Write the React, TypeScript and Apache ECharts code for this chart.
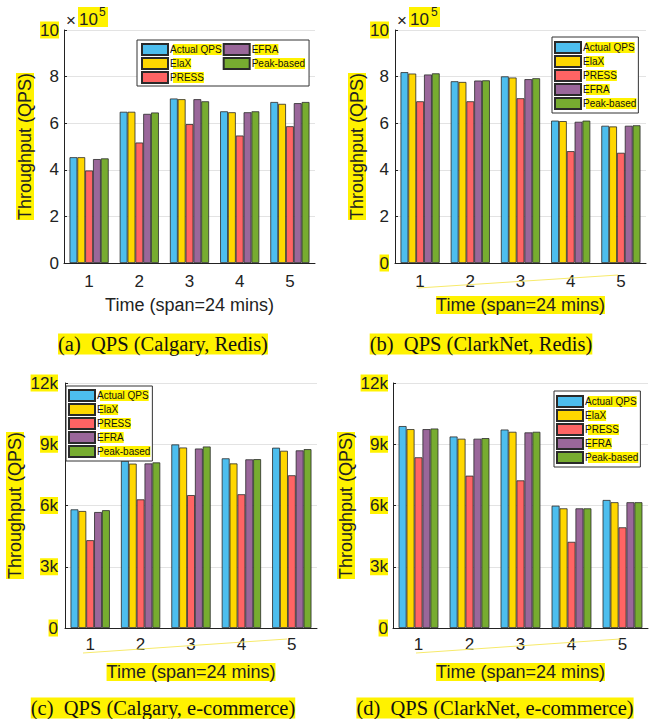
import React, { useEffect, useRef } from 'react';
import * as echarts from 'echarts';

const categories = ['1', '2', '3', '4', '5'];
const seriesNames = ['Actual QPS', 'ElaX', 'PRESS', 'EFRA', 'Peak-based'];
const colors = ['#4DBEEE', '#FFD700', '#FF6464', '#9A679A', '#77AC30'];

// (a) QPS (Calgary, Redis)
const aActual = [454000, 649000, 706000, 651000, 691000];
const aElaX = [454000, 649000, 703000, 647000, 683000];
const aPress = [397000, 517000, 596000, 547000, 587000];
const aEfra = [446000, 640000, 703000, 647000, 686000];
const aPeak = [449000, 646000, 694000, 651000, 691000];

// (b) QPS (ClarkNet, Redis)
const bActual = [819000, 780000, 801000, 611000, 589000];
const bElaX = [813000, 777000, 796000, 609000, 586000];
const bPress = [694000, 694000, 707000, 480000, 473000];
const bEfra = [809000, 783000, 789000, 606000, 589000];
const bPeak = [814000, 784000, 793000, 611000, 591000];

// (c) QPS (Calgary, e-commerce)
const cActual = [5810, 8190, 8990, 8310, 8830];
const cElaX = [5730, 8050, 8840, 8060, 8680];
const cPress = [4300, 6300, 6510, 6550, 7480];
const cEfra = [5680, 8060, 8790, 8260, 8700];
const cPeak = [5770, 8110, 8890, 8270, 8760];

// (d) QPS (ClarkNet, e-commerce)
const dActual = [9890, 9380, 9720, 5990, 6270];
const dElaX = [9740, 9270, 9610, 5860, 6160];
const dPress = [8360, 7460, 7230, 4220, 4930];
const dEfra = [9740, 9270, 9580, 5860, 6160];
const dPeak = [9770, 9300, 9610, 5860, 6160];

const redisTicks = [0, 2, 4, 6, 8, 10];
const ecomTicks = ['0', '3k', '6k', '9k', '12k'];

const xName = 'Time (span=24 mins)';
const yName = 'Throughput (QPS)';
const captions = [
  '(a)  QPS (Calgary, Redis)',
  '(b)  QPS (ClarkNet, Redis)',
  '(c)  QPS (Calgary, e-commerce)',
  '(d)  QPS (ClarkNet, e-commerce)',
];

const HL = '#FFF200';
const SANS = '"Liberation Sans", Arial, Helvetica, sans-serif';
const SERIF = '"Liberation Serif", "Times New Roman", serif';

export default function App() {
  const ref = useRef<HTMLDivElement>(null);

  useEffect(() => {
    if (!ref.current) return;
    const chart = echarts.init(ref.current, undefined, { renderer: 'svg' });

    const panels = [
      {
        grid: { left: 64, top: 30, width: 251, height: 233 },
        data: [aActual, aElaX, aPress, aEfra, aPeak],
        max: 1000000, interval: 200000,
        label: (v: number) => {
          const t = String(redisTicks[Math.round(v / 200000)]);
          return v === 1000000 ? `{h|${t}}` : `{n|${t}}`;
        },
        yMargin: 5, yNameGap: 30, xNameHL: false, xNameGap: 33, xMargin: 10,
        legend: { left: 137, top: 40, height: 42, padding: [3, 4, 2, 4] },
      },
      {
        grid: { left: 395, top: 30, width: 251, height: 233 },
        data: [bActual, bElaX, bPress, bEfra, bPeak],
        max: 1000000, interval: 200000,
        label: (v: number) => {
          const t = String(redisTicks[Math.round(v / 200000)]);
          return v === 1000000 || v === 0 ? `{h|${t}}` : `{n|${t}}`;
        },
        yMargin: 6, yNameGap: 29, xNameHL: true, xNameGap: 33, xMargin: 10,
        legend: { left: 552, top: 37, height: 80, padding: [4, 2, 3, 2] },
      },
      {
        grid: { left: 65, top: 383, width: 252, height: 245 },
        data: [cActual, cElaX, cPress, cEfra, cPeak],
        max: 12000, interval: 3000,
        label: (v: number) => `{h|${ecomTicks[Math.round(v / 3000)]}}`,
        yMargin: 7, yNameGap: 41, xNameHL: true, xNameGap: 35, xMargin: 8,
        legend: { left: 66, top: 386, height: 80, padding: [3, 2, 3, 2] },
      },
      {
        grid: { left: 393, top: 383, width: 255, height: 245 },
        data: [dActual, dElaX, dPress, dEfra, dPeak],
        max: 12000, interval: 3000,
        label: (v: number) => `{h|${ecomTicks[Math.round(v / 3000)]}}`,
        yMargin: 5, yNameGap: 38, xNameHL: true, xNameGap: 35, xMargin: 8,
        legend: { left: 554, top: 391, height: 80, padding: [4, 2, 3, 2] },
      },
    ];

    const tickText = { fontSize: 17, color: '#222', fontFamily: SANS };

    const option: any = {
      animation: false,
      backgroundColor: '#fff',
      grid: panels.map((p) => ({ ...p.grid, containLabel: false })),
      xAxis: panels.map((p, i) => ({
        type: 'category',
        gridIndex: i,
        data: categories,
        name: xName,
        nameLocation: 'middle',
        nameGap: p.xNameGap,
        nameTextStyle: {
          fontSize: 18, color: '#222', fontFamily: SANS,
          backgroundColor: p.xNameHL ? HL : 'transparent',
        },
        axisLine: { lineStyle: { color: '#222', width: 1 } },
        axisTick: { show: false },
        axisLabel: { ...tickText, margin: p.xMargin },
      })),
      yAxis: panels.map((p, i) => ({
        type: 'value',
        gridIndex: i,
        min: 0,
        max: p.max,
        interval: p.interval,
        name: yName,
        nameLocation: 'middle',
        nameGap: p.yNameGap,
        nameTextStyle: { fontSize: 18, color: '#222', fontFamily: SANS, backgroundColor: HL },
        axisLine: { show: true, lineStyle: { color: '#222', width: 1 } },
        axisTick: { show: true, inside: true, length: 3, lineStyle: { color: '#222' } },
        splitLine: { show: true, lineStyle: { color: '#e3e3e3', width: 1 } },
        axisLabel: {
          margin: p.yMargin,
          formatter: p.label,
          rich: {
            h: { ...tickText, backgroundColor: HL },
            n: { ...tickText },
          },
        },
      })),
      legend: panels.map((p) => ({
        orient: 'vertical',
        left: p.legend.left,
        top: p.legend.top,
        height: p.legend.height,
        padding: p.legend.padding,
        data: seriesNames,
        itemWidth: 26,
        itemHeight: 11,
        itemGap: 1,
        borderColor: '#333',
        borderWidth: 1,
        backgroundColor: '#fff',
        icon: 'rect',
        textStyle: {
          fontSize: 10, lineHeight: 11, color: '#111', fontFamily: SANS, backgroundColor: HL,
          padding: [0, 0, 0, -3],
        },
      })),
      series: panels.flatMap((p, i) =>
        seriesNames.map((name, k) => ({
          type: 'bar',
          name,
          xAxisIndex: i,
          yAxisIndex: i,
          data: p.data[k],
          barGap: '0%',
          barCategoryGap: '22%',
          itemStyle: { color: colors[k], borderColor: '#2a2a2a', borderWidth: 0.8 },
          emphasis: { disabled: true },
        }))
      ),
      graphic: [
        // x10^5 multipliers
        { type: 'rect', shape: { x: 78, y: 7, width: 30, height: 20 }, style: { fill: HL }, z: 10 },
        { type: 'text', x: 66, y: 20, z: 11, style: { text: '×', fontSize: 17, fontFamily: SANS, fill: '#222', align: 'left', verticalAlign: 'middle' } },
        { type: 'text', x: 79, y: 19, z: 11, style: { text: '10', fontSize: 17, fontFamily: SANS, fill: '#222', align: 'left', verticalAlign: 'middle' } },
        { type: 'text', x: 99, y: 12, z: 11, style: { text: '5', fontSize: 12, fontFamily: SANS, fill: '#222', align: 'left', verticalAlign: 'middle' } },
        { type: 'rect', shape: { x: 409, y: 7, width: 31, height: 20 }, style: { fill: HL }, z: 10 },
        { type: 'text', x: 397, y: 20, z: 11, style: { text: '×', fontSize: 17, fontFamily: SANS, fill: '#222', align: 'left', verticalAlign: 'middle' } },
        { type: 'text', x: 410, y: 19, z: 11, style: { text: '10', fontSize: 17, fontFamily: SANS, fill: '#222', align: 'left', verticalAlign: 'middle' } },
        { type: 'text', x: 431, y: 12, z: 11, style: { text: '5', fontSize: 12, fontFamily: SANS, fill: '#222', align: 'left', verticalAlign: 'middle' } },
        // faint yellow guide lines
        { type: 'line', shape: { x1: 418, y1: 288, x2: 618, y2: 275 }, style: { stroke: '#F7EA6A', lineWidth: 1 }, z: 1 },
        { type: 'line', shape: { x1: 83, y1: 653, x2: 287, y2: 639 }, style: { stroke: '#F7EA6A', lineWidth: 1 }, z: 1 },
        { type: 'line', shape: { x1: 416, y1: 653, x2: 620, y2: 639 }, style: { stroke: '#F7EA6A', lineWidth: 1 }, z: 1 },
        // captions
        ...[
          { x: 163, y: 344, t: captions[0] },
          { x: 481, y: 344, t: captions[1] },
          { x: 163, y: 708, t: captions[2] },
          { x: 495, y: 708, t: captions[3] },
        ].map((c) => ({
          type: 'text', x: c.x, y: c.y, z: 11,
          style: {
            text: c.t, fontSize: 20.5, fontFamily: SERIF, fill: '#111',
            align: 'center', verticalAlign: 'middle', backgroundColor: HL,
          },
        })),
      ],
    };

    chart.setOption(option);
    return () => chart.dispose();
  }, []);

  return (
    <div
      ref={ref}
      style={{ position: 'absolute', left: 0, top: 0, width: 667, height: 719, background: '#fff' }}
    />
  );
}
